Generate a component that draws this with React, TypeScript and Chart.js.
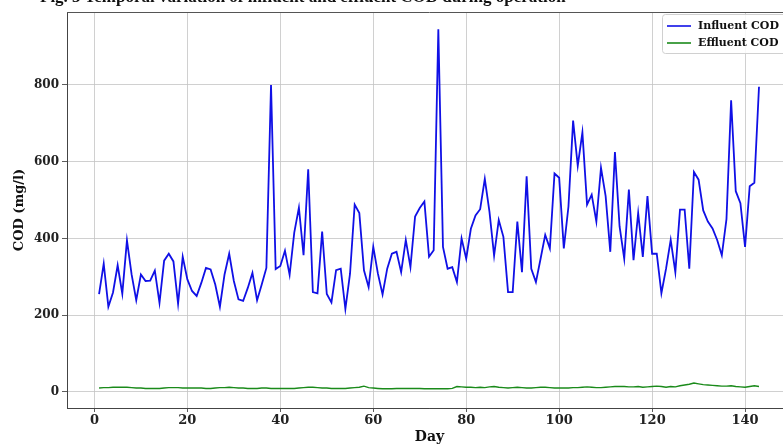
import React, { useEffect, useRef } from "react";
import { Chart, registerables } from "chart.js";

Chart.register(...registerables);

const titleText = "Fig. 3 Temporal variation of influent and effluent COD during operation";
const xTitle = "Day";
const yTitle = "COD (mg/l)";
const seriesLabels = ["Influent COD", "Effluent COD"];
const xTicks = [0, 20, 40, 60, 80, 100, 120, 140];
const yTicks = [0, 200, 400, 600, 800];

const influent = [
  255, 334, 222, 259, 330, 256, 395, 306, 239, 306,
  289, 290, 316, 232, 342, 360, 340, 230, 352, 293,
  263, 250, 284, 323, 319, 280, 222, 306, 360, 289,
  241, 237, 271, 310, 239, 280, 323, 800, 320, 328,
  368, 305, 415, 480, 356, 580, 260, 257, 418, 255,
  233, 317, 321, 216, 308, 488, 466, 317, 273, 378,
  308, 254, 321, 360, 365, 312, 396, 325, 457, 479,
  496, 352, 369, 945, 378, 321, 325, 286, 400, 347,
  425, 460, 476, 555, 470, 355, 448, 404, 260, 260,
  444, 312, 562, 321, 286, 347, 409, 374, 569, 558,
  374, 483, 707, 589, 676, 488, 514, 444, 584, 510,
  365, 625, 431, 347, 527, 343, 466, 352, 510, 360,
  360, 257, 321, 396, 312, 475, 475, 321, 573, 553,
  473, 444, 426, 396, 356, 450, 760, 523, 492, 378,
  536, 545, 795,
];

const effluent = [
  10, 11, 11, 12, 12, 12, 12, 11, 10, 10,
  9, 9, 9, 9, 10, 11, 11, 11, 10, 10,
  10, 10, 10, 9, 9, 10, 11, 11, 12, 11,
  10, 10, 9, 9, 9, 10, 10, 9, 9, 9,
  9, 9, 9, 10, 11, 12, 12, 11, 10, 10,
  9, 9, 9, 9, 10, 11, 12, 15, 11, 10,
  9, 8, 8, 8, 9, 9, 9, 9, 9, 9,
  8, 8, 8, 8, 8, 8, 9, 14, 13, 12,
  12, 11, 12, 11, 13, 14, 12, 11, 10, 11,
  12, 11, 10, 10, 11, 12, 12, 11, 10, 10,
  10, 10, 11, 11, 12, 13, 12, 11, 11, 12,
  13, 14, 14, 14, 13, 13, 14, 12, 13, 14,
  15, 14, 12, 14, 13, 16, 18, 20, 23, 21,
  19, 18, 17, 16, 15, 15, 16, 14, 13, 12,
  14, 16, 14,
];

const days = influent.map((_, i) => i + 1);

const FONT = "'DejaVu Serif', serif";

const framePlugin = {
  id: "frameAndLegend",
  afterDraw(chart: any) {
    const { ctx, chartArea } = chart;
    ctx.save();
    ctx.strokeStyle = "#555";
    ctx.lineWidth = 1;
    ctx.beginPath();
    ctx.moveTo(chartArea.left, chartArea.top + 0.5);
    ctx.lineTo(chartArea.right, chartArea.top + 0.5);
    ctx.stroke();
    ctx.beginPath();
    ctx.moveTo(chartArea.right - 0.5, chartArea.top);
    ctx.lineTo(chartArea.right - 0.5, chartArea.bottom);
    ctx.stroke();

    const bx = 662, by = 14, bw = 130, bh = 39;
    ctx.fillStyle = "rgba(255,255,255,0.85)";
    ctx.strokeStyle = "#d0d0d0";
    ctx.lineWidth = 1;
    ctx.beginPath();
    if ((ctx as any).roundRect) (ctx as any).roundRect(bx + 0.5, by + 0.5, bw, bh, 3);
    else ctx.rect(bx + 0.5, by + 0.5, bw, bh);
    ctx.fill();
    ctx.stroke();
    const rows = [26, 43];
    chart.data.datasets.forEach((ds: any, i: number) => {
      const y = rows[i];
      ctx.strokeStyle = ds.borderColor;
      ctx.lineWidth = 1.6;
      ctx.beginPath();
      ctx.moveTo(667, y);
      ctx.lineTo(691, y);
      ctx.stroke();
      ctx.fillStyle = "#111";
      ctx.font = `bold 11px ${FONT}`;
      ctx.textBaseline = "middle";
      ctx.textAlign = "left";
      ctx.fillText(ds.label, 698, y);
    });
    ctx.restore();
  },
};

export default function App() {
  const ref = useRef<HTMLCanvasElement | null>(null);

  useEffect(() => {
    if (!ref.current) return;
    const chart = new Chart(ref.current, {
      type: "line",
      data: {
        datasets: [
          {
            label: seriesLabels[0],
            data: days.map((d, i) => ({ x: d, y: influent[i] })),
            borderColor: "#1010e6",
            borderWidth: 1.8,
            pointRadius: 0,
            tension: 0,
            fill: false,
          },
          {
            label: seriesLabels[1],
            data: days.map((d, i) => ({ x: d, y: effluent[i] })),
            borderColor: "#1a8a1a",
            borderWidth: 1.4,
            pointRadius: 0,
            tension: 0,
            fill: false,
          },
        ],
      },
      options: {
        animation: false,
        responsive: false,
        devicePixelRatio: 1,
        layout: { padding: { top: 12, right: 8, left: 0, bottom: 0 } },
        plugins: {
          legend: { display: false },
          tooltip: { enabled: false },
          title: { display: false },
        },
        scales: {
          x: {
            type: "linear",
            position: "bottom",
            min: -5.9,
            max: 150.1,
            afterFit: (s: any) => {
              s.height = 38;
            },
            afterBuildTicks: (s: any) => {
              s.ticks = xTicks.map((v) => ({ value: v }));
            },
            ticks: {
              font: { family: FONT, weight: "bold", size: 13 },
              color: "#222",
              padding: 1,
              maxRotation: 0,
              autoSkip: false,
            },
            grid: {
              color: "#c4c4c4",
              lineWidth: 0.8,
              tickColor: "#333",
              tickLength: 4,
              drawTicks: true,
            },
            border: { color: "#444", width: 1 },
            title: {
              display: true,
              text: xTitle,
              font: { family: FONT, weight: "bold", size: 14 },
              color: "#111",
              padding: { top: 0, bottom: 0 },
            },
          },
          y: {
            type: "linear",
            min: -42,
            max: 990,
            afterFit: (s: any) => {
              s.width = 67;
            },
            afterBuildTicks: (s: any) => {
              s.ticks = yTicks.map((v) => ({ value: v }));
            },
            ticks: {
              font: { family: FONT, weight: "bold", size: 12 },
              color: "#222",
              padding: 3,
            },
            grid: {
              color: "#c4c4c4",
              lineWidth: 0.8,
              tickColor: "#333",
              tickLength: 5,
              drawTicks: true,
            },
            border: { color: "#444", width: 1 },
            title: {
              display: true,
              text: yTitle,
              font: { family: FONT, weight: "bold", size: 13 },
              color: "#111",
              padding: { top: 12, bottom: 0 },
            },
          },
        },
      },
      plugins: [framePlugin],
    });
    return () => chart.destroy();
  }, []);

  return (
    <div style={{ position: "absolute", left: 0, top: 0, width: 800, height: 446, overflow: "hidden" }}>
      <canvas ref={ref} width={800} height={446} style={{ position: "absolute", left: 0, top: 0 }} />
      <div
        style={{
          position: "absolute",
          left: 40,
          top: -12,
          fontFamily: "'Liberation Serif', serif",
          fontWeight: "bold",
          fontSize: 17,
          lineHeight: "17px",
          whiteSpace: "nowrap",
          color: "#111",
        }}
      >
        {titleText}
      </div>
    </div>
  );
}
